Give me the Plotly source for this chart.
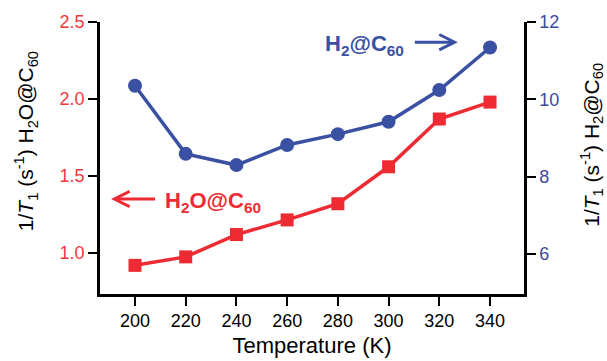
import plotly.graph_objects as go

temperature = [200, 220, 240, 260, 280, 300, 320, 340]
h2o_rate = [0.92, 0.975, 1.12, 1.215, 1.32, 1.56, 1.87, 1.98]
h2_rate = [10.35, 8.59, 8.30, 8.82, 9.10, 9.42, 10.24, 11.34]

x_ticks = [200, 220, 240, 260, 280, 300, 320, 340]
left_ticks = [1.0, 1.5, 2.0, 2.5]
right_ticks = [6, 8, 10, 12]

RED = "#ee2a32"
BLUE = "#3a50a2"
FONT = "Liberation Sans, Arial, Helvetica, sans-serif"

fig = go.Figure()
fig.add_trace(go.Scatter(
    x=temperature, y=h2o_rate, mode="lines+markers", name="H2O@C60",
    line=dict(color=RED, width=3.5),
    marker=dict(symbol="square", size=13, color=RED),
    yaxis="y"))
fig.add_trace(go.Scatter(
    x=temperature, y=h2_rate, mode="lines+markers", name="H2@C60",
    line=dict(color=BLUE, width=3.5),
    marker=dict(symbol="circle", size=14, color=BLUE),
    yaxis="y2"))

fig.update_layout(
    width=607, height=361,
    margin=dict(l=100, r=83, t=22, b=67),
    paper_bgcolor="white", plot_bgcolor="white",
    showlegend=False,
    font=dict(family=FONT, color="black"),
    xaxis=dict(
        range=[186.2, 353.4], tickvals=x_ticks,
        ticktext=[str(v) for v in x_ticks],
        showgrid=False, zeroline=False, automargin=False,
        showline=True, linecolor="black", linewidth=2.5,
        ticks="outside", ticklen=9, tickwidth=2, tickcolor="black",
        tickfont=dict(size=18, color="black"),
        title=dict(text="Temperature (K)", font=dict(size=22), standoff=8),
    ),
    yaxis=dict(
        range=[0.734, 2.5], tickvals=left_ticks,
        ticktext=["%.1f" % v for v in left_ticks],
        showgrid=False, zeroline=False, automargin=False,
        showline=True, linecolor="black", linewidth=2.5,
        ticks="outside", ticklen=9, tickwidth=2, tickcolor="black",
        tickfont=dict(size=18, color="#f0383d"),
    ),
    yaxis2=dict(
        range=[4.966, 12], tickvals=right_ticks,
        ticktext=[str(v) for v in right_ticks],
        overlaying="y", side="right",
        showgrid=False, zeroline=False, automargin=False,
        showline=True, linecolor="black", linewidth=2.5,
        ticks="outside", ticklen=9, tickwidth=2, tickcolor="black",
        tickfont=dict(size=18, color="#3d4a9c"),
    ),
)

# axis titles (placed as rotated text)
fig.add_annotation(
    text="1/<i>T</i><sub>1</sub> (s<sup>-1</sup>) H<sub>2</sub>O@C<sub>60</sub>",
    xref="paper", yref="paper", x=-0.175, y=0.561, textangle=-90,
    showarrow=False, font=dict(size=21, color="black"),
    xanchor="center", yanchor="middle")
fig.add_annotation(
    text="1/<i>T</i><sub>1</sub> (s<sup>-1</sup>) H<sub>2</sub>@C<sub>60</sub>",
    xref="paper", yref="paper", x=1.160, y=0.548, textangle=-90,
    showarrow=False, font=dict(size=21, color="black"),
    xanchor="center", yanchor="middle")

# series labels with arrows
fig.add_annotation(
    text="<b>H<sub>2</sub>@C<sub>60</sub></b>",
    xref="paper", yref="paper", x=0.623, y=0.915,
    showarrow=False, font=dict(size=22, color=BLUE),
    xanchor="center", yanchor="middle")
fig.add_annotation(
    text=" ", xref="paper", yref="paper", x=0.844, y=0.926,
    ax=-46, ay=0, showarrow=True, arrowhead=5, arrowsize=1,
    arrowwidth=3, arrowcolor=BLUE)
fig.add_annotation(
    text="<b>H<sub>2</sub>O@C<sub>60</sub></b>",
    xref="paper", yref="paper", x=0.267, y=0.338,
    showarrow=False, font=dict(size=22, color=RED),
    xanchor="center", yanchor="middle")
fig.add_annotation(
    text=" ", xref="paper", yref="paper", x=0.026, y=0.349,
    ax=47, ay=0, showarrow=True, arrowhead=5, arrowsize=1,
    arrowwidth=3, arrowcolor=RED)

fig.write_html(
    "out.html",
    config={"displayModeBar": False},
    post_script="document.body.style.margin='0';document.body.style.overflow='hidden';",
)
